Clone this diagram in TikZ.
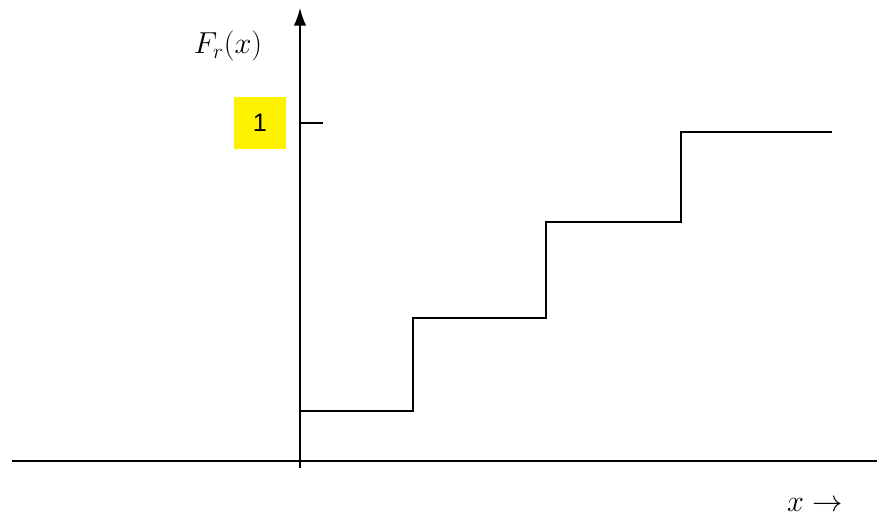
\documentclass[tikz,border=0pt]{standalone}
\usepackage{fontspec}
\newfontfamily\boxfont{Liberation Sans}
\usetikzlibrary{arrows.meta}
\tikzset{
  axis/.style={line width=0.8pt},
  stair/.style={line width=0.8pt},
  onebox/.style={fill=yellow, minimum width=1.04cm, minimum height=1.04cm, inner sep=0pt, font=\boxfont\Large},
}
\begin{document}
\begin{tikzpicture}[x=0.02cm,y=0.02cm]
				\useasboundingbox (0,0) rectangle (877,522);
				\coordinate (xl) at (12,61);
				\coordinate (xr) at (877,61);
				\coordinate (yb) at (300,54);
				\coordinate (yt) at (300,514);
				\draw [axis] (xl) -- (xr);
				\draw [axis,-{Latex[length=10pt,width=7pt]}] (yb) -- (yt);
				\node (fx) at (228,476) {\LARGE $F_r(x)$};
				\node (xarrow) at (815,17) {\LARGE $x\rightarrow$};
				\node [onebox] (one) at (260,399) {1};
				\coordinate (t0) at (300,399);
				\coordinate (t1) at (323,399);
				\draw [axis] (t0) -- (t1);
				% staircase
				\coordinate (s0) at (300,111);
				\coordinate (s1) at (413,111);
				\coordinate (s2) at (413,204);
				\coordinate (s3) at (546,204);
				\coordinate (s4) at (546,300);
				\coordinate (s5) at (681,300);
				\coordinate (s6) at (681,390);
				\coordinate (s7) at (832,390);
				\draw [stair] (s0) -- (s1) -- (s2) -- (s3) -- (s4) -- (s5) -- (s6) -- (s7);
			\end{tikzpicture}
\end{document}
